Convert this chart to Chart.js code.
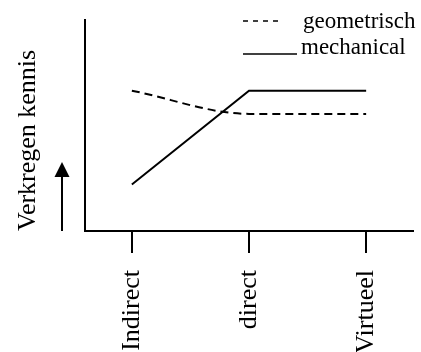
<!DOCTYPE html>
<html>
<head>
<meta charset="utf-8">
<script src="https://cdn.jsdelivr.net/npm/chart.js@4/dist/chart.umd.min.js"></script>
<style>
  html, body { margin: 0; padding: 0; background: #fff; }
</style>
</head>
<body>
<canvas id="kennisChart" width="421" height="352"></canvas>
<script>
// gegevens
const categorieen = ['Indirect', 'direct', 'Virtueel'];
const geometrisch = [6.65, 5.55, 5.55];
const mechanical = [2.2, 6.65, 6.65];
const seriesNamen = ['geometrisch', 'mechanical'];
const yTitel = 'Verkregen kennis';

const lettertype = 'Liberation Serif';

// pijl naast de y-as en de legenda rechtsboven
const extraTekening = {
    id: 'extraTekening',
    afterDraw(chart) {
        const ctx = chart.ctx;
        const yas = chart.scales.y;
        ctx.save();
        ctx.strokeStyle = '#000';
        ctx.fillStyle = '#000';

        // pijl
        const px = 62, top = 162;
        ctx.lineWidth = 2;
        ctx.beginPath();
        ctx.moveTo(px, yas.bottom);
        ctx.lineTo(px, top + 12);
        ctx.stroke();
        ctx.beginPath();
        ctx.moveTo(px, top);
        ctx.lineTo(px - 7.5, top + 15);
        ctx.lineTo(px + 7.5, top + 15);
        ctx.closePath();
        ctx.fill();

        // legenda
        ctx.font = '23px "' + lettertype + '"';
        ctx.textBaseline = 'alphabetic';
        ctx.textAlign = 'left';
        const regels = [
            { lijnY: 21, x1: 243, x2: 278, dash: [5, 5], tekstX: 303, tekstY: 28 },
            { lijnY: 54, x1: 243, x2: 297, dash: [], tekstX: 301, tekstY: 54 }
        ];
        chart.data.datasets.forEach((ds, i) => {
            const r = regels[i];
            ctx.lineWidth = 1.5;
            ctx.setLineDash(r.dash);
            ctx.beginPath();
            ctx.moveTo(r.x1, r.lijnY);
            ctx.lineTo(r.x2, r.lijnY);
            ctx.stroke();
            ctx.setLineDash([]);
            ctx.fillText(ds.label, r.tekstX, r.tekstY);
        });
        ctx.restore();
    }
};

const ctx = document.getElementById('kennisChart').getContext('2d');
const kennisChart = new Chart(ctx, {
    type: 'line',
    data: {
        datasets: [{
            label: seriesNamen[0],
            data: geometrisch.map((v, i) => ({ x: i, y: v })),
            borderColor: '#000',
            borderWidth: 2,
            borderDash: [8, 5],
            pointRadius: 0,
            cubicInterpolationMode: 'monotone',
            fill: false
        }, {
            label: seriesNamen[1],
            data: mechanical.map((v, i) => ({ x: i, y: v })),
            borderColor: '#000',
            borderWidth: 2,
            pointRadius: 0,
            tension: 0,
            fill: false
        }]
    },
    options: {
        responsive: false,
        animation: false,
        layout: { padding: { top: 20, right: 8, left: 0, bottom: 0 } },
        plugins: {
            legend: { display: false },
            tooltip: { enabled: false }
        },
        scales: {
            x: {
                type: 'linear',
                min: -0.4,
                max: 2.4,
                afterBuildTicks: s => { s.ticks = categorieen.map((c, i) => ({ value: i })); },
                afterFit: s => { s.height = 121; },
                ticks: {
                    callback: v => categorieen[v],
                    autoSkip: false,
                    minRotation: 90,
                    maxRotation: 90,
                    padding: 17,
                    color: '#000',
                    font: { family: lettertype, size: 26 }
                },
                grid: {
                    drawOnChartArea: false,
                    drawTicks: true,
                    tickLength: 22,
                    color: '#000',
                    lineWidth: 2
                },
                border: { color: '#000', width: 2 }
            },
            y: {
                min: 0,
                max: 10,
                afterFit: s => { s.width = 85; },
                ticks: { display: false },
                grid: { display: false },
                border: { color: '#000', width: 2 },
                title: {
                    display: true,
                    text: yTitel,
                    align: 'start',
                    color: '#000',
                    font: { family: lettertype, size: 26 },
                    padding: { top: 13, bottom: 0 }
                }
            }
        }
    },
    plugins: [extraTekening]
});
</script>
</body>
</html>
